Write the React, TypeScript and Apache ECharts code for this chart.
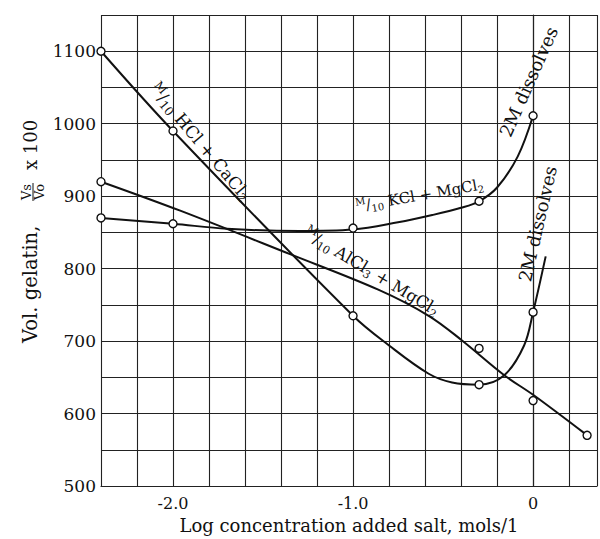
import React, { useEffect, useRef } from "react";
import * as echarts from "echarts";

// Axis ticks (labelled values)
const xTickValues = [-2.0, -1.0, 0];
const xTickLabels = ["-2.0", "-1.0", "0"];
const yTickValues = [500, 600, 700, 800, 900, 1000, 1100];

// Measured points (open circles)
const hclPoints = [[-2.4, 1100], [-2.0, 990], [-1.0, 735], [-0.3, 640], [0, 740]];
const kclPoints = [[-2.4, 870], [-2.0, 862], [-1.0, 856], [-0.3, 893], [0, 1011]];
const alPoints = [[-2.4, 920], [-0.3, 690], [0, 618], [0.3, 570]];

// Drawn curves
const hclCurve = [[-2.4, 1100], [-2.0, 990], [-1.0, 735], [-0.8, 694], [-0.58, 655], [-0.45, 643], [-0.3, 640], [-0.16, 653], [-0.05, 694], [0, 740], [0.07, 817]];
const kclCurve = [[-2.4, 870], [-2.0, 862], [-1.7, 855], [-1.3, 852], [-1.0, 854], [-0.75, 864], [-0.56, 874], [-0.4, 884], [-0.3, 893], [-0.2, 912], [-0.085, 955], [0, 1011]];
const alCurve = [[-2.4, 920], [-1.96, 880], [-1.35, 820], [-0.86, 771], [-0.58, 735], [-0.4, 702], [-0.16, 653], [0, 626], [0.29, 572]];

// Curve annotations: text, anchor in data units, rotation in degrees, font size
const curveLabels = [
  { text: "{s|M}/{b|10} HCl + CaCl{b|2}", at: [-1.848, 975], angle: -50, size: 17 },
  { text: "{s|M}/{b|10} KCl + MgCl{b|2}", at: [-0.63, 901], angle: 10, size: 15 },
  { text: "{s|M}/{b|10} AlCl{b|3} + MgCl{b|2}", at: [-0.897, 796], angle: -31, size: 16.5 },
  { text: "2M dissolves", at: [-0.025, 1058], angle: 66, size: 18 },
  { text: "2M dissolves", at: [0.025, 862], angle: 77, size: 18 },
];

const xTitle = "Log concentration added salt, mols/1";

const FONT = "DejaVu Serif";
const INK = "#111";

export default function App() {
  const ref = useRef<HTMLDivElement>(null);
  useEffect(() => {
    const el = ref.current;
    if (!el) return;
    const chart = echarts.init(el, null, { renderer: "svg" });
    const curve = (data: number[][]) => ({
      type: "line",
      data,
      smooth: 0.35,
      symbol: "none",
      showSymbol: false,
      lineStyle: { color: INK, width: 2 },
      z: 2,
      silent: true,
    });
    const points = (data: number[][]) => ({
      type: "scatter",
      data,
      symbol: "circle",
      symbolSize: 8,
      itemStyle: { color: "#fff", borderColor: INK, borderWidth: 1.4, opacity: 1 },
      z: 3,
      silent: true,
    });
    chart.setOption({
      animation: false,
      grid: { left: 101, right: 0, top: 15, bottom: 51 },
      xAxis: {
        type: "value",
        min: -2.4,
        max: 0.355,
        interval: 0.2,
        name: xTitle,
        nameLocation: "middle",
        nameGap: 26,
        nameTextStyle: { fontFamily: FONT, fontSize: 18, color: INK, verticalAlign: "top" },
        axisLine: { show: true, lineStyle: { color: "#222", width: 1.2 } },
        axisTick: { show: false },
        splitLine: { show: true, lineStyle: { color: "#222", width: 1.1 } },
        axisLabel: {
          interval: 0,
          margin: 9,
          fontFamily: FONT,
          fontSize: 16,
          color: INK,
          formatter: (v: number) => {
            const i = xTickValues.findIndex((t) => Math.abs(t - v) < 1e-6);
            return i >= 0 ? xTickLabels[i] : "";
          },
        },
      },
      yAxis: {
        type: "value",
        min: 500,
        max: 1150,
        interval: 50,
        axisLine: { show: true, lineStyle: { color: "#222", width: 1.2 } },
        axisTick: { show: false },
        splitLine: { show: true, lineStyle: { color: "#222", width: 1.1 } },
        axisLabel: {
          interval: 0,
          margin: 5,
          fontFamily: FONT,
          fontSize: 17,
          color: INK,
          formatter: (v: number) => (yTickValues.some((t) => Math.abs(t - v) < 1e-6) ? String(v) : ""),
        },
      },
      series: [
        curve(hclCurve),
        curve(kclCurve),
        curve(alCurve),
        points(hclPoints),
        points(kclPoints),
        points(alPoints),
      ],
    });

    const labelEls = curveLabels.map((l) => {
      const p = chart.convertToPixel({ gridIndex: 0 }, l.at) as number[];
      const sub = Math.round(l.size * 0.68);
      const lh = Math.round(l.size * 1.25);
      return {
        type: "text",
        x: p[0],
        y: p[1],
        rotation: (l.angle * Math.PI) / 180,
        z: 10,
        silent: true,
        style: {
          text: l.text,
          fontFamily: FONT,
          fontSize: l.size,
          lineHeight: lh,
          fill: INK,
          rich: {
            s: { fontFamily: FONT, fontSize: sub, lineHeight: lh, verticalAlign: "top", fill: INK, color: INK },
            b: { fontFamily: FONT, fontSize: sub, lineHeight: lh, verticalAlign: "bottom", fill: INK, color: INK },
          },
          align: "center",
          verticalAlign: "middle",
          textAlign: "center",
          textVerticalAlign: "middle",
        },
      };
    });

    const t = (text: string, x: number, y: number, size: number, align: string) => ({
      type: "text",
      x,
      y,
      silent: true,
      style: {
        text,
        fontFamily: FONT,
        fontSize: size,
        fill: INK,
        align,
        verticalAlign: "middle",
        textAlign: align,
        textVerticalAlign: "middle",
      },
    });

    chart.setOption({
      graphic: [
        ...labelEls,
        {
          type: "group",
          x: 30,
          y: 230,
          rotation: Math.PI / 2,
          silent: true,
          children: [
            t("Vol. gelatin,", -113, 0, 19.5, "left"),
            t("Vs", 38, -4, 13, "center"),
            {
              type: "line",
              shape: { x1: 29, y1: 3, x2: 47, y2: 3 },
              style: { stroke: INK, lineWidth: 1 },
            },
            t("Vo", 38, 9, 13, "center"),
            t("x 100", 60, 0, 18, "left"),
          ],
        },
      ],
    });

    return () => chart.dispose();
  }, []);
  return (
    <div
      ref={ref}
      style={{ position: "absolute", left: 0, top: 0, width: 600, height: 539, background: "#fff" }}
    />
  );
}
